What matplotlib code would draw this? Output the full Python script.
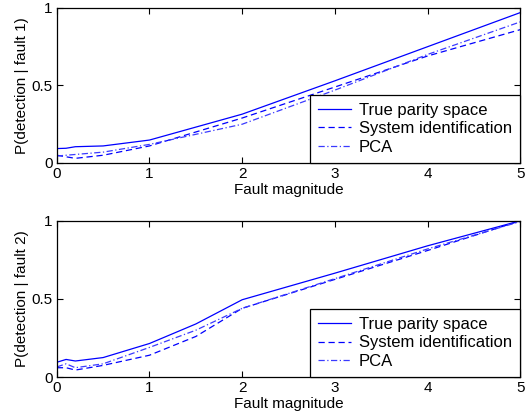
import matplotlib
matplotlib.use("Agg")
import matplotlib.pyplot as plt

plt.rcParams['font.family'] = ['Liberation Sans', 'DejaVu Sans']

# fault 1 curves
x1 = [0, 0.1, 0.2, 0.5, 1, 2, 3, 4, 5]
true1 = [0.093, 0.095, 0.105, 0.11, 0.148, 0.315, 0.53, 0.75, 0.97]
sysid1 = [0.05, 0.04, 0.03, 0.05, 0.11, 0.29, 0.49, 0.69, 0.86]
pca1 = [0.045, 0.05, 0.055, 0.07, 0.12, 0.25, 0.47, 0.70, 0.91]

# fault 2 curves
x2 = [0, 0.1, 0.2, 0.5, 1, 1.5, 2, 3, 4, 5]
true2 = [0.095, 0.113, 0.103, 0.125, 0.215, 0.34, 0.495, 0.665, 0.84, 1.0]
sysid2 = [0.06, 0.06, 0.045, 0.075, 0.14, 0.26, 0.44, 0.625, 0.81, 1.0]
pca2 = [0.065, 0.085, 0.06, 0.085, 0.19, 0.3, 0.44, 0.63, 0.82, 0.995]

labels = ["True parity space", "System identification", "PCA"]
xticks = [0, 1, 2, 3, 4, 5]
yticks = [0, 0.5, 1]
yticklabels = ["0", "0.5", "1"]

fig = plt.figure(figsize=(5.26, 4.19), dpi=100)
ax1 = fig.add_axes([0.108, 0.611, 0.881, 0.370])
ax2 = fig.add_axes([0.108, 0.100, 0.881, 0.373])

panels = [(ax1, x1, true1, sysid1, pca1, "P(detection | fault 1)"),
          (ax2, x2, true2, sysid2, pca2, "P(detection | fault 2)")]

for ax, x, t, s, p, ylab in panels:
    ax.plot(x, t, '-', color='blue', lw=0.9, label=labels[0])
    ax.plot(x, s, '--', color='blue', lw=0.9, dashes=(5, 3), label=labels[1])
    ax.plot(x, p, '-.', color='#3a3aff', lw=0.9, dashes=(5, 2, 1, 2), label=labels[2])
    ax.set_xlim(0, 5)
    ax.set_ylim(0, 1)
    ax.set_xticks(xticks)
    ax.set_yticks(yticks)
    ax.set_yticklabels(yticklabels)
    ax.tick_params(direction='in', top=True, right=True, labelsize=11, length=4, pad=3)
    ax.set_xlabel("Fault magnitude", fontsize=11, labelpad=1)
    ax.set_ylabel(ylab, fontsize=11, labelpad=2)
    for sp in ax.spines.values():
        sp.set_linewidth(0.9)
    leg = ax.legend(loc='lower right', borderaxespad=0, fontsize=12,
                    fancybox=False, framealpha=1, edgecolor='black',
                    handlelength=2.0, handletextpad=0.45, labelspacing=0.2,
                    borderpad=0.5)
    leg.get_frame().set_linewidth(0.9)

fig.savefig("out.png", dpi=100)
